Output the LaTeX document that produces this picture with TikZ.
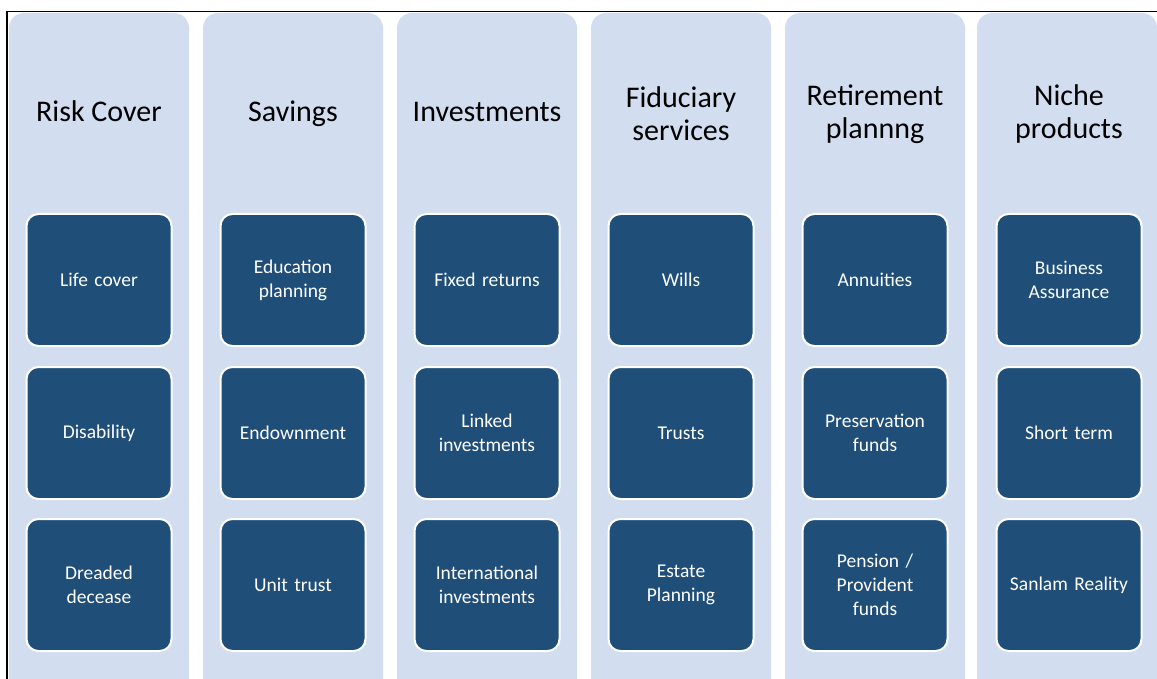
\documentclass[tikz,border=0pt]{standalone}
\usepackage{fontspec}
\setmainfont{Carlito}
\usepackage{tikz}
\usetikzlibrary{positioning}
\definecolor{colfill}{HTML}{D2DDEF}
\definecolor{boxfill}{HTML}{1F4E79}

\tikzset{
  column/.style = {fill=colfill, draw=none, rounded corners=15pt,
    minimum width=180pt, minimum height=700pt},
  heading/.style = {align=center, text=black,
    font=\fontsize{30}{33}\selectfont},
  item/.style = {fill=boxfill, draw=white, line width=2pt, rounded corners=12pt,
    minimum width=145pt, minimum height=132pt, text width=135pt, align=center,
    text=white, font=\fontsize{19.5}{24}\selectfont},
}

\begin{document}
\begin{tikzpicture}[x=1pt, y=-1pt]
    \useasboundingbox (0,0) rectangle (1157,679);
    \clip (0,0) rectangle (1157,679);

    % columns
    \node[column] (risk) at (99,363) {};
    \node[column] (sav) at (293,363) {};
    \node[column] (inv) at (487,363) {};
    \node[column] (fid) at (681,363) {};
    \node[column] (ret) at (875,363) {};
    \node[column] (niche) at (1067,363) {};

    % headings
    \node[heading, anchor=base] (riskH) at (99,122) {Risk Cover};
    \node[heading, anchor=base] (savH) at (293,122) {Savings};
    \node[heading, anchor=base] (invH) at (487,122) {Investments};
    \node[heading] (fidH) at (681,114) {Fiduciary\\services};
    \node[heading] (retH) at (875,114) {Retirement\\plannng};
    \node[heading] (nicheH) at (1069,114) {Niche\\products};

    % products
    \node[item] (life) at (99,280) {Life cover};
    \node[item] (disab) at (99,433) {Disability};
    \node[item] (dread) at (99,585) {Dreaded\\decease};

    \node[item] (edu) at (293,280) {Education\\planning};
    \node[item] (endow) at (293,433) {Endownment};
    \node[item] (unit) at (293,585) {Unit trust};

    \node[item] (fixed) at (487,280) {Fixed returns};
    \node[item] (linked) at (487,433) {Linked\\investments};
    \node[item] (intl) at (487,585) {International\\investments};

    \node[item] (wills) at (681,280) {Wills};
    \node[item] (trusts) at (681,433) {Trusts};
    \node[item] (estate) at (681,585) {Estate\\Planning};

    \node[item] (annu) at (875,280) {Annuities};
    \node[item] (pres) at (875,433) {Preservation\\funds};
    \node[item] (pens) at (875,585) {Pension /\\Provident\\funds};

    \node[item] (bus) at (1069,280) {Business\\Assurance};
    \node[item] (short) at (1069,433) {Short term};
    \node[item] (sanlam) at (1069,585) {Sanlam Reality};

    % frame
    \draw[line width=1.5pt] (7,679) -- (7,11.5) -- (1157,11.5);
\end{tikzpicture}
\end{document}
